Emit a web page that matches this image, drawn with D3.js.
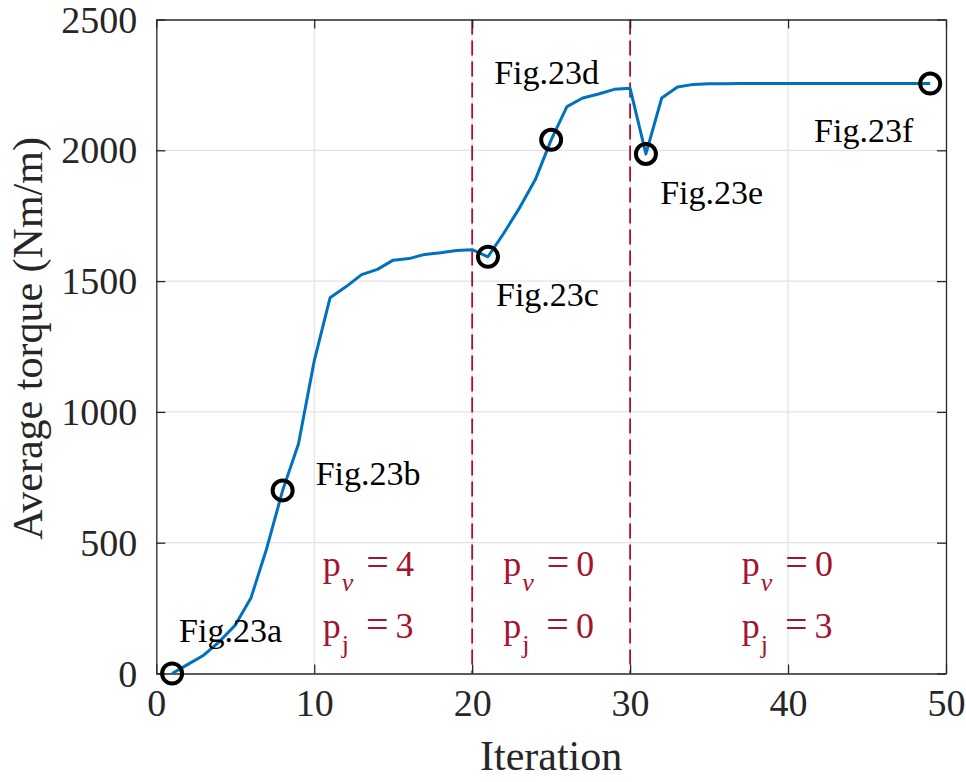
<!DOCTYPE html>
<html>
<head>
<meta charset="utf-8">
<script src="https://cdn.jsdelivr.net/npm/d3@7"></script>
<style>
  body { margin: 0; background: #fff; }
  svg text { font-family: "Liberation Serif", "Times New Roman", serif; }
</style>
</head>
<body>
<svg id="chart" width="966" height="782"></svg>
<script>
"use strict";

// data
var iterations = d3.range(1, 50);
var torque = [0, 35, 70, 122, 185, 290, 480, 700, 877, 1195,
    1436, 1478, 1525, 1545, 1580, 1586, 1602, 1608, 1617, 1620,
    1593, 1683, 1780, 1888, 2040, 2167, 2200, 2215, 2233, 2237,
    1986, 2200, 2242, 2252, 2254, 2254, 2255, 2255, 2255, 2255,
    2255, 2255, 2255, 2255, 2255, 2255, 2255, 2255, 2255];
var markedIterations = [1, 8, 21, 25, 31, 49];
var figLabels = ["Fig.23a", "Fig.23b", "Fig.23c", "Fig.23d", "Fig.23e", "Fig.23f"];
var figLabelX = [1.44, 10.09, 21.51, 21.39, 31.9, 41.65];
var figLabelY = [120, 720, 1405, 2253, 1795, 2032];
var stageBounds = [20, 30];
var stageX = [10.54, 21.96, 37.07];
var stagePv = ["4", "0", "0"];
var stagePj = ["3", "0", "3"];
var xTicks = [0, 10, 20, 30, 40, 50];
var yTicks = [0, 500, 1000, 1500, 2000, 2500];

var margin = { top: 19.5, right: 20, bottom: 108.5, left: 156.3 },
    width = 966 - margin.left - margin.right,
    height = 782 - margin.top - margin.bottom;

var axisColor = "#262626",
    gridColor = "#e3e3e3",
    lineColor = "#0072BD",
    stageColor = "#A2142F";

var svg = d3.select("#chart")
    .append("g")
    .attr("transform", "translate(" + margin.left + "," + margin.top + ")");

var x = d3.scaleLinear().domain([0, 50]).range([0, width]);
var y = d3.scaleLinear().domain([0, 2500]).range([height, 0]);

// grid
svg.append("g").selectAll("line")
    .data(xTicks.slice(1, -1))
    .enter().append("line")
    .attr("x1", d => x(d)).attr("x2", d => x(d))
    .attr("y1", 0).attr("y2", height)
    .attr("stroke", gridColor).attr("stroke-width", 1.2);
svg.append("g").selectAll("line")
    .data(yTicks.slice(1, -1))
    .enter().append("line")
    .attr("y1", d => y(d)).attr("y2", d => y(d))
    .attr("x1", 0).attr("x2", width)
    .attr("stroke", gridColor).attr("stroke-width", 1.2);

// stage dividers
svg.append("g").selectAll("line")
    .data(stageBounds)
    .enter().append("line")
    .attr("x1", d => x(d)).attr("x2", d => x(d))
    .attr("y1", 0).attr("y2", height)
    .attr("stroke", stageColor).attr("stroke-width", 1.8)
    .attr("stroke-dasharray", "15,6");

// axes (box with inward ticks)
function styleAxis(g) {
    g.select(".domain").attr("stroke", axisColor).attr("stroke-width", 1.3);
    g.selectAll(".tick line").attr("stroke", axisColor).attr("stroke-width", 1.3);
    g.selectAll("text").attr("fill", axisColor).style("font-size", "38px");
}

svg.append("g")
    .attr("transform", "translate(0," + height + ")")
    .call(d3.axisBottom(x).tickValues(xTicks).tickSize(-9).tickPadding(16)
        .tickFormat(d3.format("d")).tickSizeOuter(0))
    .call(styleAxis)
    .selectAll("text").attr("dy", "0.71em");

svg.append("g")
    .call(d3.axisTop(x).tickValues(xTicks).tickSize(-9).tickFormat("").tickSizeOuter(0))
    .call(styleAxis);

svg.append("g")
    .call(d3.axisLeft(y).tickValues(yTicks).tickSize(-9).tickPadding(19)
        .tickFormat(d3.format("d")).tickSizeOuter(0))
    .call(styleAxis)
    .selectAll("text").attr("dy", "0.33em");

svg.append("g")
    .attr("transform", "translate(" + width + ",0)")
    .call(d3.axisRight(y).tickValues(yTicks).tickSize(-9).tickFormat("").tickSizeOuter(0))
    .call(styleAxis);

// axis labels
svg.append("text")
    .attr("text-anchor", "middle")
    .attr("x", width / 2)
    .attr("y", height + 96)
    .attr("fill", axisColor)
    .style("font-size", "42px")
    .text("Iteration");

svg.append("text")
    .attr("text-anchor", "middle")
    .attr("transform", "rotate(-90)")
    .attr("x", -height / 2 + 8)
    .attr("y", -margin.left + 42)
    .attr("fill", axisColor)
    .style("font-size", "42px")
    .text("Average torque (Nm/m)");

// torque curve
var line = d3.line()
    .x((d, i) => x(iterations[i]))
    .y(d => y(d));

svg.append("path")
    .datum(torque)
    .attr("fill", "none")
    .attr("stroke", lineColor)
    .attr("stroke-width", 3)
    .attr("stroke-linejoin", "round")
    .attr("d", line);

// circle markers
svg.append("g").selectAll("circle")
    .data(markedIterations)
    .enter().append("circle")
    .attr("cx", d => x(d))
    .attr("cy", d => y(torque[iterations.indexOf(d)]))
    .attr("r", 10)
    .attr("fill", "none")
    .attr("stroke", "#000")
    .attr("stroke-width", 4);

// figure labels
svg.append("g").selectAll("text")
    .data(figLabels)
    .enter().append("text")
    .attr("x", (d, i) => x(figLabelX[i]))
    .attr("y", (d, i) => y(figLabelY[i]))
    .attr("fill", "#000")
    .style("font-size", "34px")
    .text(d => d);

// stage parameter labels
function paramLabel(g, sub, italic, val, baseY) {
    var t = g.append("text")
        .attr("y", y(baseY))
        .attr("fill", stageColor)
        .style("font-size", "36px");
    t.append("tspan").text("p");
    t.append("tspan")
        .attr("dy", 15)
        .attr("dx", 1)
        .style("font-size", "26px")
        .style("font-style", italic ? "italic" : "normal")
        .text(sub);
    t.append("tspan")
        .attr("dy", -15)
        .attr("dx", italic ? 13 : 17)
        .style("font-size", "40px")
        .text("=");
    t.append("tspan")
        .attr("dx", 7)
        .text(val);
    return t;
}

stageX.forEach(function (sx, i) {
    var g = svg.append("g").attr("transform", "translate(" + x(sx) + ",0)");
    paramLabel(g, "\u03bd", true, stagePv[i], 373);
    paramLabel(g, "j", false, stagePj[i], 136);
});
</script>
</body>
</html>
